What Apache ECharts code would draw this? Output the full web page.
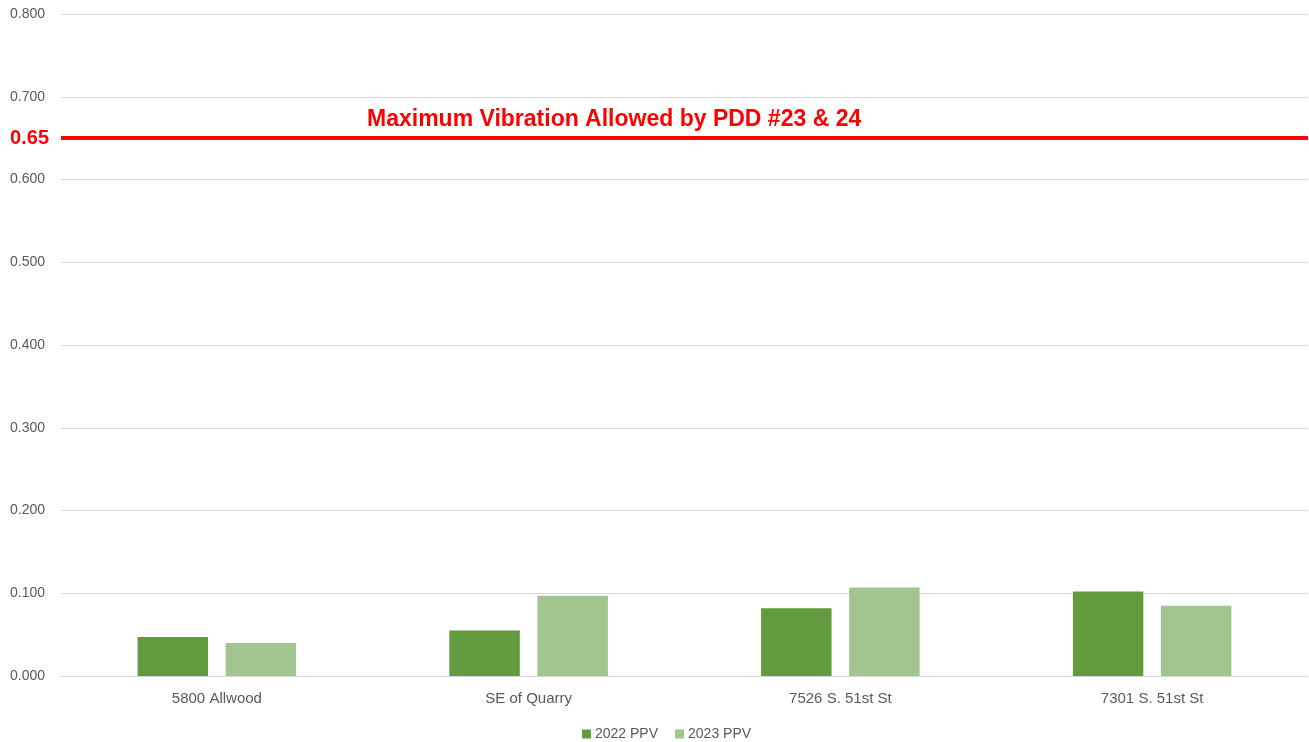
<!DOCTYPE html>
<html>
<head>
<meta charset="utf-8">
<script src="https://cdn.jsdelivr.net/npm/echarts@6/dist/echarts.min.js"></script>
<style>
html,body{margin:0;padding:0;background:#fff;}
#chart{width:1309px;height:742px;}
</style>
</head>
<body>
<div id="chart"></div>
<script>
const categories = ["5800 Allwood", "SE of Quarry", "7526 S. 51st St", "7301 S. 51st St"];
const ppv2022 = [0.047, 0.055, 0.082, 0.102];
const ppv2023 = [0.040, 0.097, 0.107, 0.085];
const seriesNames = ["2022 PPV", "2023 PPV"];
const limitValue = 0.65;
const limitLabel = "0.65";
const limitTitle = "Maximum Vibration Allowed by PDD #23 & 24";

const FONT = "Liberation Sans";
const chart = echarts.init(document.getElementById('chart'), null, {renderer: 'canvas'});
chart.setOption({
  animation: false,
  backgroundColor: '#ffffff',
  textStyle: {fontFamily: FONT},
  grid: {left: 61, right: 1, top: 14, bottom: 66, containLabel: false},
  legend: {
    data: seriesNames,
    top: 722,
    left: 577,
    itemWidth: 9,
    itemHeight: 9,
    itemGap: 17,
    icon: 'rect',
    textStyle: {color: '#595959', fontSize: 14, fontFamily: FONT, padding: [0,0,0,-1]}
  },
  xAxis: {
    type: 'category',
    data: categories,
    axisLine: {show: true, lineStyle: {color: '#d9d9d9', width: 1}},
    axisTick: {show: false},
    axisLabel: {color: '#595959', fontSize: 15, fontFamily: FONT, margin: 15}
  },
  yAxis: {
    type: 'value',
    min: 0,
    max: 0.8,
    interval: 0.1,
    axisLine: {show: false},
    axisTick: {show: false},
    splitLine: {lineStyle: {color: '#d9d9d9', width: 1}},
    axisLabel: {color: '#595959', fontSize: 14, fontFamily: FONT, margin: 16,
      formatter: v => v.toFixed(3)}
  },
  series: [
    {
      name: seriesNames[0],
      type: 'bar',
      data: ppv2022,
      barWidth: '22.6%',
      barGap: '25%',
      itemStyle: {color: '#629a3e'},
      markLine: {
        silent: true,
        symbol: 'none',
        lineStyle: {color: '#ff0000', width: 4, type: 'solid'},
        data: [
          {yAxis: limitValue, label: {show: true, position: 'start', formatter: limitLabel,
            color: '#ff0000', fontWeight: 'bold', fontSize: 20, fontFamily: FONT, distance: 12}},
          {yAxis: limitValue, label: {show: true, position: 'insideStartTop', formatter: limitTitle,
            color: '#ff0000', fontWeight: 'bold', fontSize: 23, fontFamily: FONT, distance: 7,
            padding: [0, 0, 0, 299]}}
        ]
      }
    },
    {
      name: seriesNames[1],
      type: 'bar',
      data: ppv2023,
      barWidth: '22.6%',
      barGap: '25%',
      itemStyle: {color: '#a2c48e'}
    }
  ]
});
</script>
</body>
</html>
